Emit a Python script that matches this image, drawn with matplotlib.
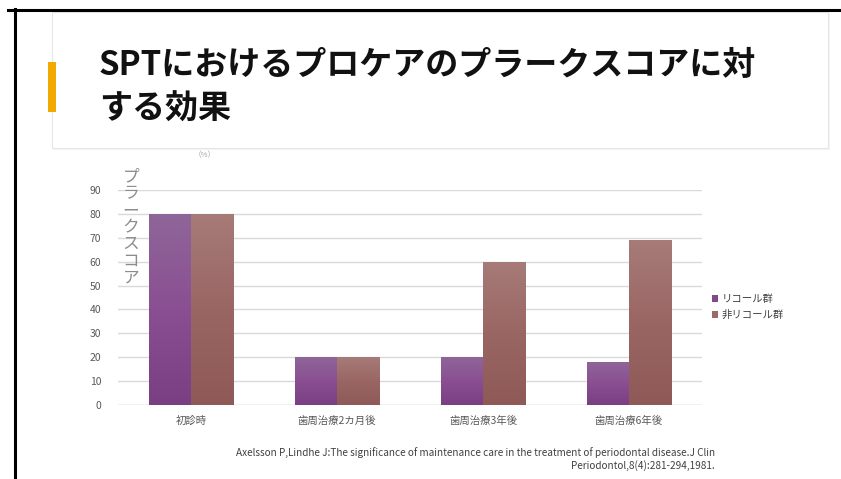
import numpy as np
import matplotlib
matplotlib.use("Agg")
import matplotlib.pyplot as plt
from matplotlib.colors import LinearSegmentedColormap
from matplotlib.patches import Rectangle

plt.rcParams['font.family'] = ['Noto Sans CJK JP', 'DejaVu Sans']

categories = ['初診時', '歯周治療2カ月後', '歯周治療3年後', '歯周治療6年後']
recall = [80, 20, 20, 18]
non_recall = [80, 20, 60, 69]
series_names = ['リコール群', '非リコール群']
yticks = list(range(0, 100, 10))

title_1 = 'SPTにおけるプロケアのプラークスコアに対'
title_2 = 'する効果'
ylabel = 'プラークスコア'
unit = '（%）'
citation = ('Axelsson P,Lindhe J:The significance of maintenance care in the treatment of periodontal disease.J Clin\n'
            'Periodontol,8(4):281-294,1981.')

W, H = 841, 479
fig = plt.figure(figsize=(W / 100, H / 100), dpi=100)

def fx(x):
    return x / W

def fy(y):
    return 1 - y / H

# slide frame
fig.add_artist(plt.Line2D([fx(8), 1], [fy(10), fy(10)], color='black', lw=2.2))
fig.add_artist(plt.Line2D([fx(15), fx(15)], [fy(9), 0], color='black', lw=2.2))
# title box with faint shadow
fig.add_artist(Rectangle((fx(53), fy(150)), fx(777), (136 / H), transform=fig.transFigure,
                         facecolor='#eeeeee', edgecolor='none', alpha=0.6))
fig.add_artist(Rectangle((fx(52), fy(148)), fx(776), (136 / H), transform=fig.transFigure,
                         facecolor='white', edgecolor='#e6e6e6', lw=0.8))
fig.add_artist(Rectangle((fx(48), fy(112)), fx(8), (50 / H), transform=fig.transFigure,
                         facecolor='#F2A900', edgecolor='none'))
fig.text(fx(99), fy(66), title_1, fontsize=23.8, fontweight='bold', va='center', ha='left', color='#111111')
fig.text(fx(99), fy(109), title_2, fontsize=23.8, fontweight='bold', va='center', ha='left', color='#111111')

ax = fig.add_axes([fx(118), fy(405), fx(584), (215 / H)])
x = np.arange(len(categories))
bw = 0.29
b1 = ax.bar(x - bw / 2, recall, bw, color='#82498A', label=series_names[0], zorder=2)
b2 = ax.bar(x + bw / 2, non_recall, bw, color='#9C6A68', label=series_names[1], zorder=2)

cm1 = LinearSegmentedColormap.from_list('p', ['#7A3F82', '#8A4F92', '#8F6699'])
cm2 = LinearSegmentedColormap.from_list('r', ['#8E5957', '#9A6664', '#A67B78'])
grad = np.linspace(0, 1, 256).reshape(-1, 1)
for bars, cm in ((b1, cm1), (b2, cm2)):
    for p in bars:
        x0, y0 = p.get_x(), p.get_y()
        w, h = p.get_width(), p.get_height()
        im = ax.imshow(grad, cmap=cm, origin='lower', aspect='auto',
                       extent=[x0, x0 + w, y0, y0 + h], zorder=3)
        im.set_clip_path(p)

ax.set_xlim(-0.5, len(categories) - 0.5)
ax.set_ylim(0, 90)
ax.set_yticks(yticks)
ax.set_xticks(x)
ax.set_xticklabels(categories)
ax.tick_params(length=0, labelsize=7.5, colors='#595959', pad=8)
ax.tick_params(axis='y', pad=12)
ax.grid(axis='y', color='#d9d9d9', lw=1, zorder=0)
ax.set_axisbelow(True)
for s in ax.spines.values():
    s.set_visible(False)
ax.axhline(0, color='#d9d9d9', lw=1, zorder=1)

fig.text(fx(131), fy(168), '\n'.join(ylabel), fontsize=12, color='#8c8c8c', va='top', ha='center',
         linespacing=1.0)
fig.text(fx(205), fy(155), unit, fontsize=5.5, color='#a6a6a6', va='center', ha='center')

ax.legend(loc='center left', bbox_to_anchor=((708 - 118) / 584, 0.455),
          frameon=False, fontsize=7.5, handlelength=0.6, handleheight=0.6, handletextpad=0.3,
          labelspacing=0.55, labelcolor='#404040', borderaxespad=0)

fig.text(fx(715), fy(459), citation, fontsize=7.2, color='#404040', ha='right', va='center',
         multialignment='right', linespacing=1.3)

fig.savefig('out.png', dpi=100)
